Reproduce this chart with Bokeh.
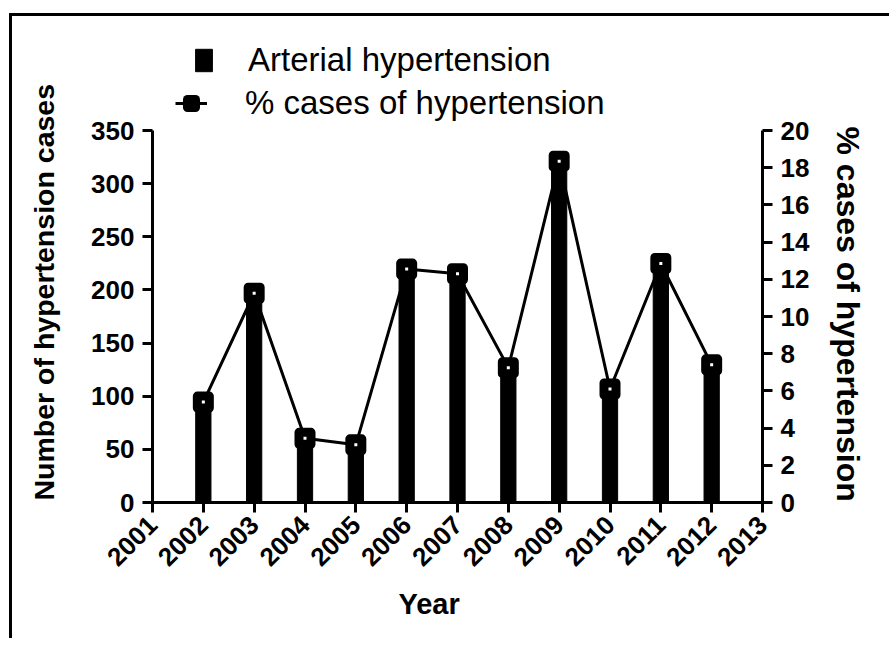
import math
from bokeh.plotting import figure
from bokeh.models import (LinearAxis, Range1d, FixedTicker, Legend, LegendItem,
                          ColumnDataSource, Title)
from bokeh.embed import file_html
from bokeh.resources import INLINE

# ---- data ----
years = [2002, 2003, 2004, 2005, 2006, 2007, 2008, 2009, 2010, 2011, 2012]
cases = [94, 197, 60, 54, 220, 215, 127, 321, 107, 225, 129]
pct = [5.4, 11.25, 3.45, 3.1, 12.55, 12.3, 7.25, 18.35, 6.1, 12.85, 7.4]
x_ticks = [2001, 2002, 2003, 2004, 2005, 2006, 2007, 2008, 2009, 2010, 2011, 2012, 2013]
x_tick_labels = ["2001", "2002", "2003", "2004", "2005", "2006", "2007",
                 "2008", "2009", "2010", "2011", "2012", "2013"]
left_ticks = [0, 50, 100, 150, 200, 250, 300, 350]
right_ticks = [0, 2, 4, 6, 8, 10, 12, 14, 16, 18, 20]
left_max = 350
right_max = 20
bar_name = "Arterial hypertension"
line_name = "% cases of hypertension"
x_title = "Year"
left_title = "Number of hypertension cases"
right_title = "% cases of hypertension"

FONT = "Liberation Sans"

# frame extends above the axes (axes are bounded) to hold the legend
FRAME_H = 468      # px, frame height
AXIS_H = 372       # px, height of the bounded axes
view_left = left_max * FRAME_H / AXIS_H
view_right = right_max * FRAME_H / AXIS_H

src = ColumnDataSource(dict(year=years, cases=cases, pct=pct))

p = figure(width=880, height=625, output_backend="svg", toolbar_location=None,
           x_range=Range1d(2001, 2013), y_range=Range1d(0, view_left),
           min_border_left=140, min_border_right=130, min_border_top=18,
           min_border_bottom=139)
p.styles = {"margin-left": "9px", "margin-top": "13px",
            "border-left": "3px solid black", "border-top": "3px solid black"}
p.outline_line_color = None
p.grid.visible = False
p.extra_y_ranges = {"pct": Range1d(0, view_right)}

line = p.line("year", "pct", source=src, y_range_name="pct", line_color="black", line_width=3)
bars = p.vbar(x="year", top="cases", width=0.3, source=src, fill_color="black", line_color="black")
marks = p.scatter("year", "pct", source=src, y_range_name="pct", marker="square", size=12,
                  line_width=9, line_color="black", fill_color="white", line_join="round")

right = LinearAxis(y_range_name="pct")
p.add_layout(right, "right")


def style_axis(ax):
    ax.axis_line_width = 3
    ax.axis_line_color = "black"
    ax.major_tick_line_width = 3
    ax.major_tick_line_color = "black"
    ax.major_tick_in = 0
    ax.major_tick_out = 10
    ax.minor_tick_line_color = None
    ax.major_label_text_font = FONT
    ax.major_label_text_font_style = "bold"
    ax.major_label_text_font_size = "26px"
    ax.major_label_text_color = "black"
    ax.major_label_standoff = 8


xa = p.xaxis[0]
ya = p.yaxis[0]
for ax in (xa, ya, right):
    style_axis(ax)

xa.ticker = FixedTicker(ticks=x_ticks)
xa.major_label_overrides = {t: s for t, s in zip(x_ticks, x_tick_labels)}
xa.major_label_orientation = math.pi / 4

ya.ticker = FixedTicker(ticks=left_ticks)
ya.bounds = (0, left_max)

right.ticker = FixedTicker(ticks=right_ticks)
right.bounds = (0, right_max)


def make_title(text, offset, standoff, valign, size):
    return Title(text=text, align="left", offset=offset, standoff=standoff,
                 vertical_align=valign, text_font=FONT, text_font_style="bold",
                 text_font_size=size, text_color="black")


p.add_layout(make_title(x_title, 246, 20, "top", "29px"), "below")
# blank spacer between the left axis and its title
p.add_layout(Title(text=" ", text_font_size="2px", standoff=20), "left")
p.add_layout(make_title(left_title, 2, 10, "bottom", "28.5px"), "left")
p.add_layout(make_title(right_title, 92, 34, "bottom", "32px"), "right")

leg1 = Legend(items=[LegendItem(label=bar_name, renderers=[bars])],
              location=(41, 423), orientation="vertical",
              glyph_width=21, glyph_height=28, label_height=28, label_standoff=34,
              padding=0, margin=0, border_line_color=None, background_fill_alpha=0,
              label_text_font=FONT, label_text_font_size="33px", label_text_color="black")
leg2 = Legend(items=[LegendItem(label=line_name, renderers=[line, marks])],
              location=(23, 380), orientation="vertical",
              glyph_width=32, glyph_height=20, label_height=20, label_standoff=38,
              padding=0, margin=0, border_line_color=None, background_fill_alpha=0,
              label_text_font=FONT, label_text_font_size="33px", label_text_color="black")
p.add_layout(leg1, "center")
p.add_layout(leg2, "center")

open("out.html", "w").write(file_html(p, INLINE))
